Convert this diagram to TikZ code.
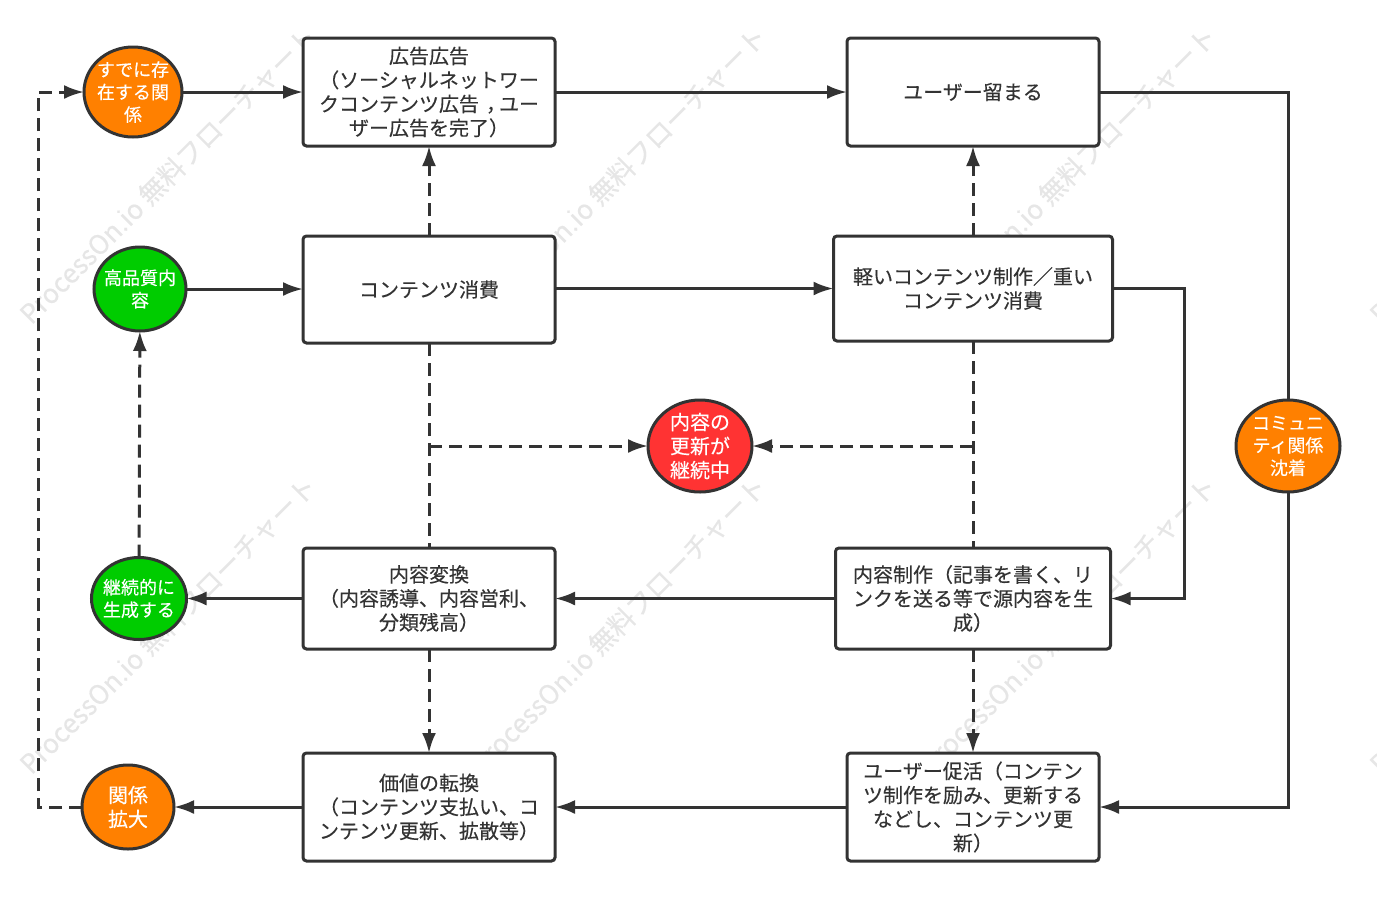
\documentclass[tikz,border=0pt]{standalone}
\usepackage{fontspec}
\setmainfont{Noto Sans CJK JP}[FakeBold=0.3]
\usetikzlibrary{arrows.meta,shapes.geometric}
\definecolor{ink}{HTML}{333333}
\definecolor{wm}{HTML}{E6E6E6}
\definecolor{orangec}{HTML}{FF8000}
\definecolor{greenc}{HTML}{00CC00}
\definecolor{redc}{HTML}{FF3333}
\tikzset{
  x=1pt,y=-1pt,
  box/.style={draw=ink,fill=white,line width=3pt,rounded corners=3.5pt,inner sep=0pt,outer sep=0pt,align=center,text=ink,font=\fontsize{20}{24}\selectfont},
  circ/.style={ellipse,draw=ink,line width=3pt,inner sep=-14pt,outer sep=0pt,align=center,text=white,font=\fontsize{20}{24}\selectfont},
  small/.style={font=\fontsize{18}{22.5}\selectfont},
  solidline/.style={draw=ink,line width=3pt,-{Latex[length=20pt,width=14pt]}},
  plainline/.style={draw=ink,line width=3pt},
  dashline/.style={draw=ink,line width=3pt,dash pattern=on 13pt off 7pt,-{Latex[length=20pt,width=14pt]}},
  dashplain/.style={draw=ink,line width=3pt,dash pattern=on 13pt off 7pt},
  mark wm/.style={text=wm,font=\fontsize{26.5}{26.5}\selectfont,rotate=45,inner sep=0pt}
}
\begin{document}
\begin{tikzpicture}
\useasboundingbox (0,0) rectangle (1377,898);
\fill[white] (0,0) rectangle (1377,898);
\begin{scope}
\clip (0,0) rectangle (1377,898);
\node[mark wm] (w1) at (168,175) {ProcessOn.io 無料フローチャート};
\node[mark wm] (w2) at (618,175) {ProcessOn.io 無料フローチャート};
\node[mark wm] (w3) at (1068,175) {ProcessOn.io 無料フローチャート};
\node[mark wm] (w4) at (1518,175) {ProcessOn.io 無料フローチャート};
\node[mark wm] (w5) at (168,625) {ProcessOn.io 無料フローチャート};
\node[mark wm] (w6) at (618,625) {ProcessOn.io 無料フローチャート};
\node[mark wm] (w7) at (1068,625) {ProcessOn.io 無料フローチャート};
\node[mark wm] (w8) at (1518,625) {ProcessOn.io 無料フローチャート};
\end{scope}
% boxes
\node[box,minimum width=252pt,minimum height=108pt] (A) at (429,92) {広告広告\\（ソーシャルネットワー\\クコンテンツ広告\kern0.35em，\kern-0.35emユー\\ザー広告を完了）};
\node[box,minimum width=252pt,minimum height=108pt] (B) at (973,92) {ユーザー留まる};
\node[box,minimum width=252pt,minimum height=107pt] (C) at (429,289.5) {コンテンツ消費};
\node[box,minimum width=279pt,minimum height=105pt] (D) at (973,288.5) {軽いコンテンツ制作／重い\\コンテンツ消費};
\node[box,minimum width=252pt,minimum height=101pt] (E) at (429,598.5) {内容変換\\（内容誘導、内容営利、\\分類残高）};
\node[box,minimum width=275pt,minimum height=101pt] (F) at (973,598.5) {内容制作（記事を書く、リ\\ンクを送る等で源内容を生\\成）};
\node[box,minimum width=252pt,minimum height=108pt] (G) at (973,807) {ユーザー促活（コンテン\\ツ制作を励み、更新する\\などし、コンテンツ更\\新）};
\node[box,minimum width=252pt,minimum height=108pt] (H) at (429,807) {価値の転換\\（コンテンツ支払い、コ\\ンテンツ更新、拡散等）};
% circles
\node[circ,small,fill=orangec,minimum width=98pt,minimum height=90pt] (c1) at (133,92) {すでに存\\在する関\\係};
\node[circ,small,fill=greenc,minimum width=92pt,minimum height=84pt] (c2) at (140,289) {高品質内\\容};
\node[circ,small,fill=greenc,minimum width=95pt,minimum height=82pt] (c3) at (139,598.5) {継続的に\\生成する};
\node[circ,fill=orangec,minimum width=92pt,minimum height=84pt] (c4) at (128,807) {関係\\拡大};
\node[circ,fill=redc,minimum width=104pt,minimum height=92pt] (c5) at (700,446) {内容の\\更新が\\継続中};
\node[circ,small,fill=orangec,minimum width=104pt,minimum height=92pt] (c6) at (1288,446) {コミュニ\\ティ関係\\沈着};
% routing points
\coordinate (tr) at (1288,92);
\coordinate (br) at (1288,807);
\coordinate (m1) at (1184,288.5);
\coordinate (m2) at (1184,598.5);
\coordinate (l1) at (38,807);
\coordinate (l2) at (38,92);
\coordinate (b1) at (429,446);
\coordinate (b2) at (973,446);
% connectors
\draw[solidline] (c1) -- (A);
\draw[solidline] (A) -- (B);
\draw[plainline] (B) -- (tr) -- (c6);
\draw[solidline] (c6) -- (br) -- (G);
\draw[solidline] (c2) -- (c2 -| C.west);
\draw[solidline] (C.east |- D) -- (D);
\draw[dashline] (C) -- (A);
\draw[dashline] (D) -- (B);
\draw[solidline] (D) -- (m1) -- (m2) -- (F);
\draw[dashplain] (C) -- (E);
\draw[dashplain] (D) -- (F);
\draw[dashline] (b1) -- (c5);
\draw[dashline] (b2) -- (c5);
\draw[solidline] (F) -- (E);
\draw[solidline] (E) -- (c3);
\draw[dashline] (c3) -- (c2);
\draw[dashline] (E) -- (H);
\draw[dashline] (F) -- (G);
\draw[solidline] (G) -- (H);
\draw[solidline] (H) -- (c4);
\draw[dashline] (c4) -- (l1) -- (l2) -- (c1);
\end{tikzpicture}
\end{document}
